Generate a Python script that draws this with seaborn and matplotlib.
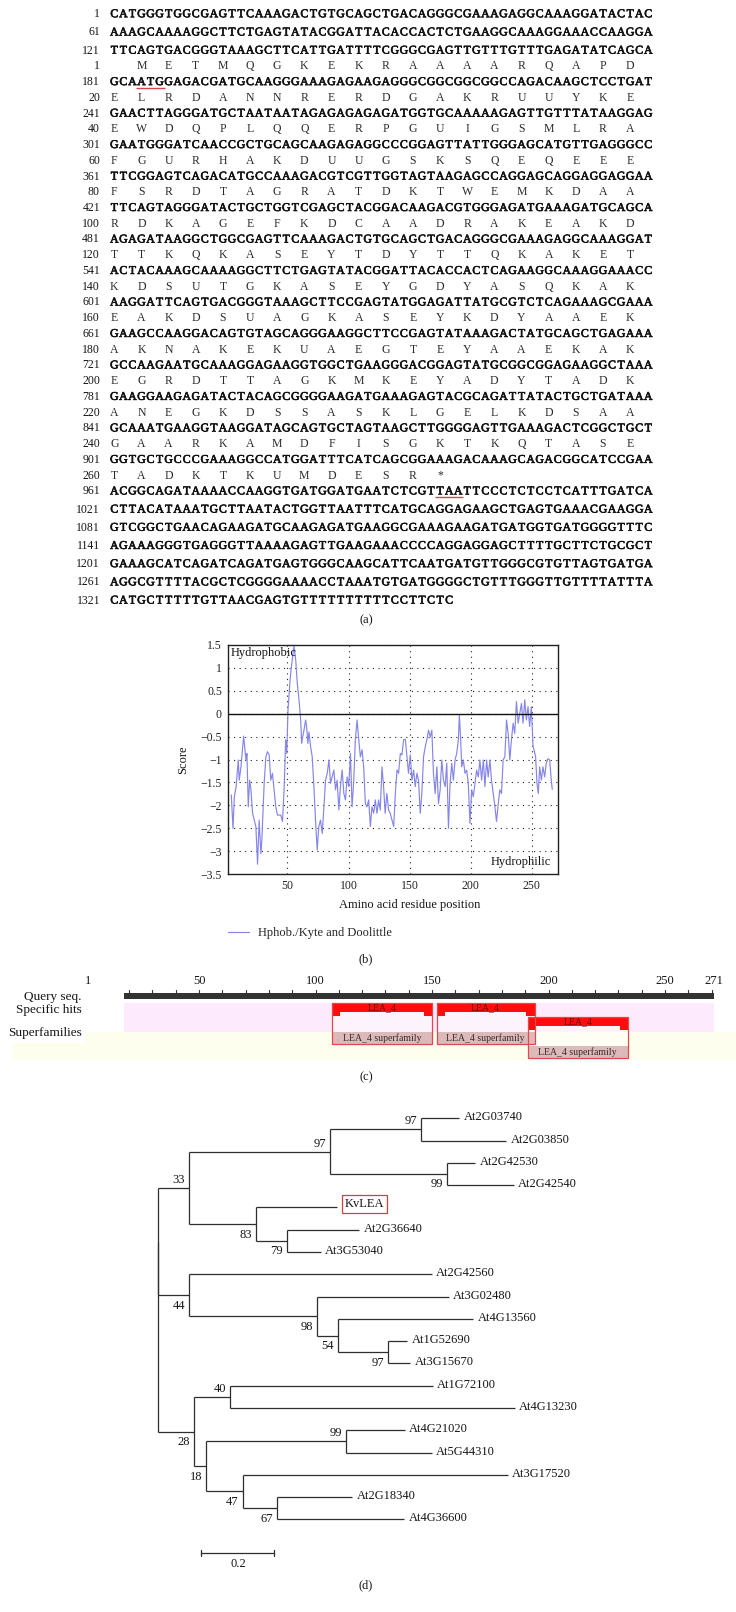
import matplotlib
matplotlib.use("Agg")
import matplotlib.pyplot as plt
import matplotlib.patheffects as pe
import seaborn as sns
import pandas as pd
import numpy as np
from matplotlib.patches import Rectangle, Polygon

W, H = 736, 1612

# ------------------------------------------------------------------ (a) data
NT_START = [1, 61, 121, 181, 241, 301, 361, 421, 481, 541, 601, 661, 721, 781,
            841, 901, 961, 1021, 1081, 1141, 1201, 1261, 1321]
NT_SEQ = [
    "CATGGGTGGCGAGTTCAAAGACTGTGCAGCTGACAGGGCGAAAGAGGCAAAGGATACTAC",
    "AAAGCAAAAGGCTTCTGAGTATACGGATTACACCACTCTGAAGGCAAAGGAAACCAAGGA",
    "TTCAGTGACGGGTAAAGCTTCATTGATTTTCGGGCGAGTTGTTTGTTTGAGATATCAGCA",
    "GCAATGGAGACGATGCAAGGGAAAGAGAAGAGGGCGGCGGCGGCCAGACAAGCTCCTGAT",
    "GAACTTAGGGATGCTAATAATAGAGAGAGAGATGGTGCAAAAAGAGTTGTTTATAAGGAG",
    "GAATGGGATCAACCGCTGCAGCAAGAGAGGCCCGGAGTTATTGGGAGCATGTTGAGGGCC",
    "TTCGGAGTCAGACATGCCAAAGACGTCGTTGGTAGTAAGAGCCAGGAGCAGGAGGAGGAA",
    "TTCAGTAGGGATACTGCTGGTCGAGCTACGGACAAGACGTGGGAGATGAAAGATGCAGCA",
    "AGAGATAAGGCTGGCGAGTTCAAAGACTGTGCAGCTGACAGGGCGAAAGAGGCAAAGGAT",
    "ACTACAAAGCAAAAGGCTTCTGAGTATACGGATTACACCACTCAGAAGGCAAAGGAAACC",
    "AAGGATTCAGTGACGGGTAAAGCTTCCGAGTATGGAGATTATGCGTCTCAGAAAGCGAAA",
    "GAAGCCAAGGACAGTGTAGCAGGGAAGGCTTCCGAGTATAAAGACTATGCAGCTGAGAAA",
    "GCCAAGAATGCAAAGGAGAAGGTGGCTGAAGGGACGGAGTATGCGGCGGAGAAGGCTAAA",
    "GAAGGAAGAGATACTACAGCGGGGAAGATGAAAGAGTACGCAGATTATACTGCTGATAAA",
    "GCAAATGAAGGTAAGGATAGCAGTGCTAGTAAGCTTGGGGAGTTGAAAGACTCGGCTGCT",
    "GGTGCTGCCCGAAAGGCCATGGATTTCATCAGCGGAAAGACAAAGCAGACGGCATCCGAA",
    "ACGGCAGATAAAACCAAGGTGATGGATGAATCTCGTTAATTCCCTCTCCTCATTTGATCA",
    "CTTACATAAATGCTTAATACTGGTTAATTTCATGCAGGAGAAGCTGAGTGAAACGAAGGA",
    "GTCGGCTGAACAGAAGATGCAAGAGATGAAGGCGAAAGAAGATGATGGTGATGGGGTTTC",
    "AGAAAGGGTGAGGGTTAAAAGAGTTGAAGAAACCCCAGGAGGAGCTTTTGCTTCTGCGCT",
    "GAAAGCATCAGATCAGATGAGTGGGCAAGCATTCAATGATGTTGGGCGTGTTAGTGATGA",
    "AGGCGTTTTACGCTCGGGGAAAACCTAAATGTGATGGGGCTGTTTGGGTTGTTTTATTTA",
    "CATGCTTTTTGTTAACGAGTGTTTTTTTTTTCCTTCTC",
]
AA_START = [1, 20, 40, 60, 80, 100, 120, 140, 160, 180, 200, 220, 240, 260]
AA_SEQ = [
    "METMQGKEKRAAAARQAPD",
    "ELRDANNRERDGAKRUUYKE",
    "EWDQPLQQERPGUIGSMLRA",
    "FGURHAKDUUGSKSQEQEEE",
    "FSRDTAGRATDKTWEMKDAA",
    "RDKAGEFKDCAADRAKEAKD",
    "TTKQKASEYTDYTTQKAKET",
    "KDSUTGKASEYGDYASQKAK",
    "EAKDSUAGKASEYKDYAAEK",
    "AKNAKEKUAEGTEYAAEKAK",
    "EGRDTTAGKMKEYADYTADK",
    "ANEGKDSSASKLGELKDSAA",
    "GAARKAMDFISGKTKQTASE",
    "TADKTKUMDESR*",
]
CDS_START_NT = 184          # A of the ATG start codon

# ------------------------------------------------------------------ (b) data
KD_PROFILE = [
    (4.1, -1.77), (5.5, -2.50), (6.6, -1.81), (8.0, -1.60), (9.8, -1.01), (10.6, -1.45),
    (12.0, -1.16), (14.2, -0.49), (16.1, -1.01), (16.9, -0.87), (18.0, -2.03), (19.1, -1.45),
    (20.2, -1.66), (21.5, -2.17), (22.9, -2.32), (24.2, -2.46), (25.6, -3.28), (26.9, -2.32),
    (28.3, -3.05), (29.1, -2.75), (31.0, -1.52), (32.4, -0.94), (33.7, -0.83), (35.1, -0.90),
    (36.4, -1.45), (37.8, -1.30), (39.1, -1.66), (40.5, -2.03), (41.9, -2.21), (44.6, -2.21),
    (46.0, -2.35), (47.3, -1.66), (48.6, -0.57), (49.5, -0.87), (50.5, 0.08), (52.2, 0.73),
    (53.3, 1.02), (55.4, 1.47), (56.8, 1.17), (58.1, 0.66), (59.5, 0.30), (60.9, -0.14),
    (61.7, -0.65), (62.5, -0.51), (63.6, -0.36), (64.9, -0.14), (65.7, -0.28), (66.8, -0.65),
    (67.6, -0.40), (69.0, -0.72), (70.3, -0.94), (71.7, -1.59), (73.0, -2.32), (74.4, -2.97),
    (75.7, -2.46), (77.1, -2.32), (78.5, -2.61), (79.9, -2.03), (81.2, -1.45), (82.6, -1.30),
    (84.0, -1.01), (85.3, -1.52), (86.6, -1.38), (88.0, -1.23), (89.4, -1.66), (90.7, -1.45),
    (92.1, -2.10), (93.4, -1.59), (94.8, -1.23), (96.2, -1.74), (97.5, -1.88), (98.9, -1.38),
    (100.2, -1.59), (101.6, -0.87), (102.9, -2.03), (104.3, -1.45), (105.6, -0.57), (107.0, -0.14),
    (108.4, -0.57), (109.7, -0.94), (111.1, -0.79), (112.4, -1.16), (113.8, -1.96), (115.1, -2.03),
    (116.5, -1.88), (117.9, -2.46), (119.2, -2.03), (120.6, -2.17), (121.9, -1.88), (123.3, -2.17),
    (124.6, -1.88), (126.0, -2.10), (127.4, -1.16), (128.7, -1.59), (130.0, -2.17), (131.4, -1.74),
    (132.8, -2.10), (134.1, -2.17), (135.6, -2.32), (137.0, -2.46), (138.3, -1.74), (139.7, -1.23),
    (141.0, -1.30), (142.4, -0.87), (143.7, -0.90), (145.1, -0.57), (146.5, -0.56), (147.8, -0.94),
    (149.1, -1.30), (150.5, -0.90), (151.9, -1.45), (153.3, -1.23), (154.6, -1.59), (156.0, -1.30),
    (157.3, -1.45), (158.7, -2.17), (160.0, -1.74), (161.4, -0.94), (162.8, -0.72), (164.1, -0.57),
    (165.5, -0.36), (166.9, -0.51), (168.2, -0.36), (169.5, -1.30), (170.9, -1.74), (172.3, -1.16),
    (173.6, -1.96), (175.0, -1.66), (176.3, -1.01), (177.7, -1.45), (179.1, -1.59), (180.4, -1.08),
    (181.8, -2.50), (183.1, -1.52), (184.5, -1.08), (185.8, -1.45), (187.2, -1.01), (188.5, -0.87),
    (189.9, -0.57), (190.7, -0.03), (191.8, -0.57), (192.6, -1.16), (194.0, -1.01), (195.3, -1.30),
    (196.7, -1.23), (198.0, -1.52), (199.4, -2.39), (200.8, -1.66), (202.1, -1.81), (203.5, -1.52),
    (204.8, -1.23), (206.2, -1.38), (207.5, -1.01), (208.9, -1.45), (210.3, -1.01), (211.6, -1.59),
    (213.0, -1.01), (214.3, -1.38), (215.7, -1.01), (217.0, -1.45), (218.4, -1.74), (219.8, -2.03),
    (221.1, -2.35), (222.5, -1.96), (223.8, -1.66), (225.2, -1.74), (226.5, -1.01), (227.9, -0.94),
    (229.3, -0.14), (230.6, -0.43), (232.0, -1.01), (233.3, -0.57), (234.7, -0.21), (236.0, -0.43),
    (237.4, 0.26), (238.8, -0.21), (240.1, 0.00), (241.5, 0.22), (242.8, -0.21), (244.2, 0.30),
    (245.5, -0.14), (246.9, 0.15), (248.2, -0.28), (249.6, 0.15), (251.0, -0.72), (251.8, -0.79),
    (253.1, -0.94), (254.2, -1.52), (255.3, -1.74), (256.4, -1.16), (257.8, -1.45), (259.1, -1.16),
    (260.5, -1.38), (261.8, -1.08), (263.2, -0.98), (264.6, -1.01), (265.9, -1.45), (266.7, -1.65),
]
KD_XTICKS = [50, 100, 150, 200, 250]
KD_YTICKS = [1.5, 1, 0.5, 0, -0.5, -1, -1.5, -2, -2.5, -3, -3.5]

# ------------------------------------------------------------------ (c) data
QUERY_LEN = 271
RULER_LABELS = [1, 50, 100, 150, 200, 250, 271]
RULER_BAR_START = 18
HIT_NAMES = ["LEA_4", "LEA_4", "LEA_4"]
HIT_START = [107, 152, 191]
HIT_END = [150, 194, 234]
HIT_ROW = [0, 0, 1]
SUPERFAMILY = "LEA_4 superfamily"

# ------------------------------------------------------------------ (d) data
TREE_EDGES = [  # parent, child, branch length (top-to-bottom order)
    ("root", "n0", 0.002), ("root", "n28", 0.100),
    ("n0", "n33", 0.083), ("n0", "n44", 0.084),
    ("n33", "n97p", 0.387), ("n33", "n83", 0.185),
    ("n97p", "n97a", 0.250), ("n97p", "n99a", 0.322),
    ("n97a", "At2G03740", 0.104), ("n97a", "At2G03850", 0.233),
    ("n99a", "At2G42530", 0.076), ("n99a", "At2G42540", 0.182),
    ("n83", "KvLEA", 0.222), ("n83", "n79", 0.085),
    ("n79", "At2G36640", 0.198), ("n79", "At3G53040", 0.092),
    ("n44", "At2G42560", 0.665), ("n44", "n98", 0.352),
    ("n98", "At3G02480", 0.359), ("n98", "n54", 0.056),
    ("n54", "At4G13560", 0.370), ("n54", "n97b", 0.137),
    ("n97b", "At1G52690", 0.052), ("n97b", "At3G15670", 0.061),
    ("n28", "n40", 0.098), ("n28", "n18", 0.033),
    ("n40", "At1G72100", 0.556), ("n40", "At4G13230", 0.780),
    ("n18", "n99b", 0.383), ("n18", "n47", 0.100),
    ("n99b", "At4G21020", 0.161), ("n99b", "At5G44310", 0.235),
    ("n47", "At3G17520", 0.726), ("n47", "n67", 0.095),
    ("n67", "At2G18340", 0.205), ("n67", "At4G36600", 0.348),
]
BOOTSTRAP = {"n97a": 97, "n99a": 99, "n97p": 97, "n33": 33, "n83": 83, "n79": 79,
             "n44": 44, "n98": 98, "n54": 54, "n97b": 97, "n40": 40, "n28": 28,
             "n18": 18, "n99b": 99, "n47": 47, "n67": 67}
BOOT_ABOVE = {"n97a", "n97p", "n33", "n40", "n99b"}
HIGHLIGHT = "KvLEA"
SCALE_LEN = 0.2

# ------------------------------------------------------------------ style
sns.set_theme(style="white")
plt.rcParams["font.family"] = ["Liberation Serif", "DejaVu Serif"]
plt.rcParams["axes.unicode_minus"] = True
TXT = "#151515"

fig = plt.figure(figsize=(W / 100, H / 100), dpi=100)


def px_axes(left, top, right, bottom):
    return fig.add_axes([left / W, 1 - bottom / H, (right - left) / W, (bottom - top) / H])


# ================================================================== (a)
X0, PITCH = 114.3, 9.05
FS_SEQ = 8.5
CAP = 0.33 * FS_SEQ * 100 / 72
ax_a = px_axes(0, 0, W, 640)
ax_a.set_xlim(-X0 / PITCH, (W - X0) / PITCH)
ax_a.set_ylim(640, 0)
ax_a.axis("off")

rows = []
for i, st in enumerate(NT_START):
    for j, a in enumerate(AA_START):
        nt = CDS_START_NT + 3 * (a - 1)
        if st <= nt < st + 60:
            rows.append(("aa", j, i))
    rows.append(("nt", i, i))

ROW0_Y, GAP_NT, GAP_AA = 13.3, 18.2, 15.74
ys, y = [], ROW0_Y
for k, r in enumerate(rows):
    if k > 0:
        y += GAP_AA if "aa" in (rows[k - 1][0], r[0]) else GAP_NT
    ys.append(y)

NUM_COL = (100 - X0) / PITCH
RED = "#d8454a"
BOLDISH = [pe.withStroke(linewidth=0.45, foreground="#111111")]
for (kind, j, i), yc in zip(rows, ys):
    yb = yc + CAP
    if kind == "nt":
        ax_a.text(NUM_COL, yb, str(NT_START[i]), ha="right", va="baseline",
                  fontsize=FS_SEQ, color=TXT)
        for c, ch in enumerate(NT_SEQ[i]):
            ax_a.text(c, yb, ch, ha="center", va="baseline", fontsize=FS_SEQ, color="#111111",
                      path_effects=BOLDISH)
    else:
        ax_a.text(NUM_COL, yb, str(AA_START[j]), ha="right", va="baseline",
                  fontsize=FS_SEQ, color=TXT)
        for k, ch in enumerate(AA_SEQ[j]):
            n = AA_START[j] + k
            col = CDS_START_NT + 3 * (n - 1) - NT_START[i]
            ax_a.text(col, yb, ch, ha="center", va="baseline", fontsize=FS_SEQ,
                      color="#2a2a2a")

# underline the start and stop codons
stop_aa = AA_START[-1] + AA_SEQ[-1].index("*")
for codon_nt in (CDS_START_NT, CDS_START_NT + 3 * (stop_aa - 1)):
    for (kind, j, i), yc in zip(rows, ys):
        if kind == "nt" and NT_START[i] <= codon_nt < NT_START[i] + 60:
            c0 = codon_nt - NT_START[i]
            ax_a.plot([c0 - 0.55, c0 + 2.55], [yc + 6.8, yc + 6.8], color=RED, lw=1.0,
                      solid_capstyle="butt")

# ================================================================== (b)
ax_b = px_axes(227.5, 644.7, 557.5, 874.3)
kd = pd.DataFrame(KD_PROFILE, columns=["position", "score"])
sns.lineplot(data=kd, x="position", y="score", ax=ax_b, color="#8585ea", lw=0.85,
             sort=False, estimator=None, label="Hphob./Kyte and Doolittle")
ax_b.set_xlim(1, 271)
ax_b.set_ylim(-3.5, 1.5)
ax_b.set_xticks(KD_XTICKS)
ax_b.set_xticklabels([str(v) for v in KD_XTICKS])
ax_b.set_yticks(KD_YTICKS)
ax_b.set_yticklabels([f"{v:g}".replace("-", "\u2212") for v in KD_YTICKS])
ax_b.grid(True, linestyle=(0, (1, 4)), color="#222222", lw=0.8)
ax_b.axhline(0, color="#111111", lw=1.0)
for s in ax_b.spines.values():
    s.set_color("#222222")
    s.set_linewidth(1.0)
ax_b.tick_params(direction="in", length=2.5, width=0.6, labelsize=8.5, pad=4,
                 colors="#222222")
ax_b.set_xlabel("Amino acid residue position", fontsize=9, color=TXT)
ax_b.xaxis.label.set_va("center")
ax_b.xaxis.set_label_coords(0.553, -0.134)
ax_b.set_ylabel("Score", fontsize=9, color=TXT)
ax_b.yaxis.label.set_va("center")
ax_b.yaxis.set_label_coords(-0.135, 0.5)
ax_b.text(0.0106, 0.962, "Hydrophobic", transform=ax_b.transAxes, ha="left",
          va="center", fontsize=9, color=TXT)
ax_b.text(0.981, 0.053, "Hydrophilic", transform=ax_b.transAxes, ha="right",
          va="center", fontsize=9, color=TXT)
ax_b.legend(loc="center left", bbox_to_anchor=(0.0, -0.257), frameon=False,
            borderpad=0, borderaxespad=0, handlelength=1.7, handletextpad=0.75,
            fontsize=9)

# ================================================================== (c)
PX50, PPU = 199.0, 2.33          # ruler: pixel of residue 50, pixels per residue
ax_c = px_axes(0, 965, W, 1075)
ax_c.set_xlim(50 - PX50 / PPU, 50 + (W - PX50) / PPU)
ax_c.set_ylim(1075, 965)
ax_c.axis("off")
xl = ax_c.get_xlim()

ax_c.add_patch(Rectangle((RULER_BAR_START, 1003.3), QUERY_LEN - RULER_BAR_START, 28.4,
                         fc="#fdeafd", ec="none", zorder=1))
ax_c.add_patch(Rectangle((50 + (11.7 - PX50) / PPU, 1031.7), xl[1] - (50 + (11.7 - PX50) / PPU),
                         28.3, fc="#fefeee", ec="none", zorder=1))
ax_c.add_patch(Rectangle((RULER_BAR_START, 993.0), QUERY_LEN - RULER_BAR_START, 6.3,
                         fc="#333333", ec="none", zorder=2))
for t in range(20, QUERY_LEN + 1, 10):
    ax_c.plot([t, t], [989.5, 993.0], color="#333333", lw=0.8, zorder=2)
for v in RULER_LABELS:
    ax_c.text(v, 980.5, str(v), ha="left" if v == 1 else "center", va="center",
              fontsize=9, color=TXT)

lab_x = 50 + (81.7 - PX50) / PPU
ax_c.text(lab_x, 996.7, "Query seq.", ha="right", va="center", fontsize=9.5, color=TXT)
ax_c.text(lab_x, 1010.4, "Specific hits", ha="right", va="center", fontsize=9.5, color=TXT)
ax_c.text(lab_x, 1033.3, "Superfamilies", ha="right", va="center", fontsize=9.5, color=TXT,
          bbox=dict(fc="white", ec="none", pad=2.5))

CAPW = 3.5
for name, s, e, r in zip(HIT_NAMES, HIT_START, HIT_END, HIT_ROW):
    top = 1003.3 + 14.0 * r
    hb, cb, bb = top + 8.4, top + 12.7, top + 40.7
    ax_c.add_patch(Rectangle((s, top), e - s, bb - top, fc="white", alpha=0.45,
                             ec="none", zorder=3))
    ax_c.add_patch(Rectangle((s, bb - 12.3), e - s, 12.3, fc="#dcbaba", ec="none", zorder=4))
    ax_c.add_patch(Polygon([(s, top), (e, top), (e, cb), (e - CAPW, cb), (e - CAPW, hb),
                            (s + CAPW, hb), (s + CAPW, cb), (s, cb)], closed=True,
                           fc="#ff0d0d", ec="none", zorder=5))
    ax_c.add_patch(Rectangle((s, top), e - s, bb - top, fc="none", ec="#e2474c",
                             lw=0.9, zorder=6))
    ax_c.text((s + e) / 2, top + 4.7, name, ha="center", va="center", fontsize=7,
              color="#6a0000", zorder=7)
    ax_c.text((s + e) / 2, bb - 6.0, SUPERFAMILY, ha="center", va="center", fontsize=7,
              color="#3a2a2a", zorder=7)

# ================================================================== (d)
ROOT_PX, PX_PER_UNIT = 157.6, 365.0
LEAF0_PX, LEAF_GAP = 1118.3, 22.28
ax_d = px_axes(140, 1095, W, 1600)
ax_d.set_xlim((140 - ROOT_PX) / PX_PER_UNIT, (W - ROOT_PX) / PX_PER_UNIT)
ax_d.set_ylim((1600 - LEAF0_PX) / LEAF_GAP, (1095 - LEAF0_PX) / LEAF_GAP)
ax_d.axis("off")

children = {}
blen = {}
for p, c, l in TREE_EDGES:
    children.setdefault(p, []).append(c)
    blen[c] = l
xpos, ypos = {"root": 0.0}, {}
leaf_counter = [0]


def layout(node):
    for c in children.get(node, []):
        xpos[c] = xpos[node] + blen[c]
        layout(c)
    if node in children:
        ypos[node] = (ypos[children[node][0]] + ypos[children[node][-1]]) / 2
    else:
        ypos[node] = leaf_counter[0]
        leaf_counter[0] += 1


layout("root")
LC = "#2e2e2e"
for node, kids in children.items():
    ax_d.plot([xpos[node], xpos[node]], [ypos[kids[0]], ypos[kids[-1]]], color=LC, lw=0.9,
              solid_capstyle="butt")
    for c in kids:
        ax_d.plot([xpos[node], xpos[c]], [ypos[c], ypos[c]], color=LC, lw=0.9,
                  solid_capstyle="butt")

pad = 4.5 / PX_PER_UNIT
for node in xpos:
    if node in children:
        continue
    kw = dict(ha="left", va="center", fontsize=9, color=TXT)
    if node == HIGHLIGHT:
        kw["bbox"] = dict(fc="white", ec="#e03a3a", lw=0.9, pad=2.0)
        ax_d.text(xpos[node] + 1.6 * pad, ypos[node] - 0.15, node, **kw)
    else:
        ax_d.text(xpos[node] + pad, ypos[node] - 0.04, node, **kw)

for node, val in BOOTSTRAP.items():
    dy = -0.36 if node in BOOT_ABOVE else 0.47
    ax_d.text(xpos[node] - 4.0 / PX_PER_UNIT, ypos[node] + dy, str(val), ha="right",
              va="center", fontsize=9, color=TXT)

sb_y = (1553.3 - LEAF0_PX) / LEAF_GAP
sb_x0 = (201.4 - ROOT_PX) / PX_PER_UNIT
ax_d.plot([sb_x0, sb_x0 + SCALE_LEN], [sb_y, sb_y], color=LC, lw=0.9)
for xx in (sb_x0, sb_x0 + SCALE_LEN):
    ax_d.plot([xx, xx], [sb_y - 0.13, sb_y + 0.13], color=LC, lw=0.9)
ax_d.text(sb_x0 + SCALE_LEN / 2, sb_y + 0.5, f"{SCALE_LEN:g}", ha="center", va="center",
          fontsize=9, color=TXT)

# ------------------------------------------------------------------ panel labels
for lab, yy in (("(a)", 620.7), ("(b)", 959.0), ("(c)", 1077.7), ("(d)", 1585.7)):
    fig.text(366 / W, 1 - yy / H, lab, ha="center", va="center", fontsize=9, color=TXT)

fig.savefig("out.png", dpi=100)
